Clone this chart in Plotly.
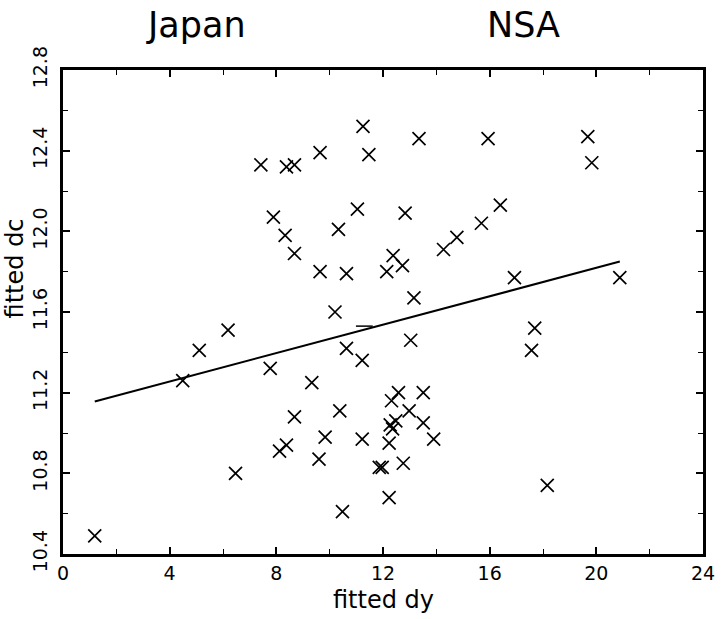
import plotly.graph_objects as go

# fitted dy / fitted dc pairs
dy = [1.19, 4.49, 5.11, 6.19, 6.47, 7.42, 7.77, 7.89, 8.12, 8.33,
      8.38, 8.38, 8.68, 8.68, 8.68, 9.33, 9.60, 9.64, 9.64, 9.83,
      10.20, 10.33, 10.38, 10.48, 10.63, 10.63, 11.04, 11.22, 11.22, 11.25,
      11.47, 11.86, 11.97, 12.14, 12.23, 12.23, 12.27, 12.32, 12.36, 12.38,
      12.48, 12.58, 12.73, 12.76, 12.83, 12.98, 13.04, 13.16, 13.35, 13.51,
      13.51, 13.90, 14.27, 14.77, 15.69, 15.94, 16.40, 16.93, 17.57, 17.69,
      18.16, 19.68, 19.83, 20.88]
dc = [10.49, 11.26, 11.41, 11.51, 10.80, 12.33, 11.32, 12.07, 10.91, 11.98,
      12.32, 10.94, 12.33, 11.89, 11.08, 11.25, 10.87, 12.39, 11.80, 10.98,
      11.60, 12.01, 11.11, 10.61, 11.79, 11.42, 12.11, 11.36, 10.97, 12.52,
      12.38, 10.83, 10.83, 11.80, 10.95, 10.68, 11.04, 11.16, 11.02, 11.88,
      11.06, 11.20, 11.83, 10.85, 12.09, 11.11, 11.46, 11.67, 12.46, 11.20,
      11.05, 10.97, 11.91, 11.97, 12.04, 12.46, 12.13, 11.77, 11.41, 11.52,
      10.74, 12.47, 12.34, 11.77]

# regression line end points and mean marker
fit_x = [1.19, 20.88]
fit_y = [11.156, 11.85]
mean_x = [11.3]
mean_y = [11.53]

x_ticks = [0, 4, 8, 12, 16, 20, 24]
y_ticks = [10.4, 10.8, 11.2, 11.6, 12.0, 12.4, 12.8]
y_tick_text = ["10.4", "10.8", "11.2", "11.6", "12.0", "12.4", "12.8"]

FONT = "DejaVu Sans"

fig = go.Figure()
fig.add_trace(go.Scatter(
    x=dy, y=dc, mode="markers",
    marker=dict(symbol="x-thin", size=13, line=dict(width=1.7, color="black"), color="black"),
    showlegend=False, cliponaxis=False,
))
fig.add_trace(go.Scatter(
    x=fit_x, y=fit_y, mode="lines",
    line=dict(color="black", width=2),
    showlegend=False,
))
fig.add_trace(go.Scatter(
    x=mean_x, y=mean_y, mode="markers",
    marker=dict(symbol="line-ew", size=12, line=dict(width=1.5, color="black")),
    showlegend=False,
))

axis_common = dict(
    showgrid=False, zeroline=False, showline=True, linecolor="black", linewidth=2.5,
    mirror="allticks", ticks="inside", ticklen=7, tickwidth=1.5, tickcolor="black",
    tickfont=dict(family=FONT, size=19, color="black"),
)

fig.update_xaxes(
    range=[0, 24], tickvals=x_ticks,
    minor=dict(dtick=2, ticks="inside", ticklen=5, tickwidth=1.2, tickcolor="black"),
    **axis_common,
)
fig.update_yaxes(
    range=[10.4, 12.8], tickvals=y_ticks, ticktext=y_tick_text, tickangle=-90,
    ticklabelstandoff=6,
    minor=dict(dtick=0.2, ticks="inside", ticklen=5, tickwidth=1.2, tickcolor="black"),
    **axis_common,
)

annotations = [
    dict(text="Japan", x=0.2083, y=1.093, xref="paper", yref="paper",
         xanchor="center", yanchor="middle", showarrow=False,
         font=dict(family=FONT, size=35, color="black")),
    dict(text="NSA", x=0.719, y=1.093, xref="paper", yref="paper",
         xanchor="center", yanchor="middle", showarrow=False,
         font=dict(family=FONT, size=35, color="black")),
    dict(text="fitted dy", x=0.5, y=-0.095, xref="paper", yref="paper",
         xanchor="center", yanchor="middle", showarrow=False,
         font=dict(family=FONT, size=24, color="black")),
    dict(text="fitted dc", x=-0.075, y=0.59, xref="paper", yref="paper",
         xanchor="center", yanchor="middle", showarrow=False, textangle=-90,
         font=dict(family=FONT, size=24, color="black")),
]

fig.update_layout(
    width=727, height=619,
    margin=dict(l=63, r=16, t=70, b=65),
    plot_bgcolor="white", paper_bgcolor="white",
    annotations=annotations,
)

fig.write_html("out.html")
